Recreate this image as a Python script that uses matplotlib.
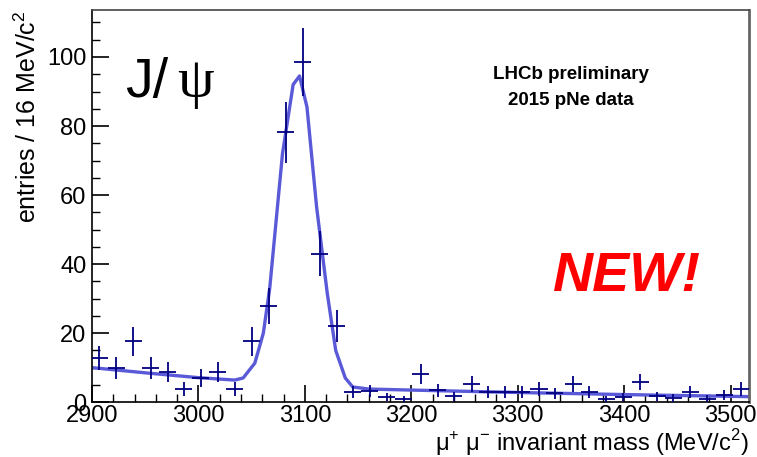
import numpy as np
import matplotlib
matplotlib.use('Agg')
import matplotlib.pyplot as plt
from matplotlib.ticker import MultipleLocator

plt.rcParams['font.family'] = ['Liberation Sans', 'DejaVu Sans']
plt.rcParams['mathtext.fontset'] = 'custom'
plt.rcParams['mathtext.rm'] = 'Liberation Sans'

# bin centres (MeV/c^2) and entries per bin
mass = [2907, 2923, 2939, 2955, 2971, 2986, 3002, 3018, 3034, 3050,
        3066, 3082, 3098, 3114, 3130, 3145, 3161, 3177, 3193, 3209,
        3225, 3240, 3257, 3272, 3288, 3304, 3320, 3335, 3352, 3367,
        3383, 3399, 3415, 3431, 3446, 3462, 3478, 3494, 3510]
entries = [12.8, 9.9, 17.7, 9.9, 8.7, 3.8, 7.0, 8.7, 3.8, 17.7,
           27.9, 78.2, 98.5, 43.0, 22.0, 3.0, 3.2, 1.5, 0.9, 8.1,
           3.5, 1.7, 5.2, 2.9, 2.9, 2.9, 3.8, 2.6, 5.2, 2.9,
           0.9, 1.5, 5.8, 1.7, 1.2, 2.9, 1.0, 2.0, 3.8]

# fitted curve
fit_mass = [2900, 2950, 3000, 3034, 3042, 3053, 3061, 3067, 3079, 3089,
            3095, 3102, 3111, 3121, 3129, 3138, 3145, 3160, 3200, 3300,
            3400, 3517]
fit_vals = [10.0, 8.5, 7.1, 6.4, 7.0, 11.3, 20.0, 33.0, 72.0, 92.0,
            94.5, 85.5, 56.7, 31.7, 15.0, 7.0, 4.4, 3.8, 3.5, 2.8,
            2.2, 1.6]

fig = plt.figure(figsize=(7.57, 4.57), dpi=100)
ax = fig.add_axes([0.1215, 0.12, 0.8675, 0.858])

ax.plot(fit_mass, fit_vals, color='#5a5ad8', linewidth=2.4, zorder=2)

yerr = np.sqrt(entries)
ax.errorbar(mass, entries, xerr=8, yerr=yerr, fmt='none',
            ecolor='#000080', elinewidth=1.3, capsize=0, zorder=3)

ax.set_xlim(2900, 3517)
ax.set_ylim(0, 113.6)

ax.xaxis.set_major_locator(MultipleLocator(100))
ax.xaxis.set_minor_locator(MultipleLocator(20))
ax.yaxis.set_major_locator(MultipleLocator(20))
ax.yaxis.set_minor_locator(MultipleLocator(5))
ax.tick_params(which='major', direction='in', length=12, width=1.2,
               labelsize=17, top=False, right=False)
ax.tick_params(which='minor', direction='in', length=6, width=1.0,
               top=False, right=False)
ax.tick_params(axis='x', pad=2)
ax.tick_params(axis='y', pad=4)

for side in ['left', 'bottom', 'top']:
    ax.spines[side].set_linewidth(1.2)
ax.spines['right'].set_linewidth(2)
ax.spines['right'].set_color('#666666')
ax.spines['top'].set_color('#444444')

ax.set_xlabel('μ$^{+}$ μ$^{-}$ invariant mass (MeV/c$^{2}$)', fontsize=17,
              loc='right', labelpad=0)
ax.set_ylabel('entries / 16 MeV/c$^{2}$', fontsize=18, loc='top', labelpad=4)

fig.text(0.165, 0.788, 'J/', fontsize=40, va='baseline')
fig.text(0.234, 0.788, 'ψ', fontsize=42, va='baseline',
         family=['Liberation Serif', 'DejaVu Serif'])
fig.text(0.754, 0.836, 'LHCb preliminary', fontsize=13.5, fontweight='bold',
         ha='center', va='center')
fig.text(0.754, 0.779, '2015 pNe data', fontsize=13.5, fontweight='bold',
         ha='center', va='center')
fig.text(0.827, 0.394, 'NEW!', fontsize=40, fontweight='bold', style='italic',
         color='red', ha='center', va='center')

fig.savefig('out.png', dpi=100)
